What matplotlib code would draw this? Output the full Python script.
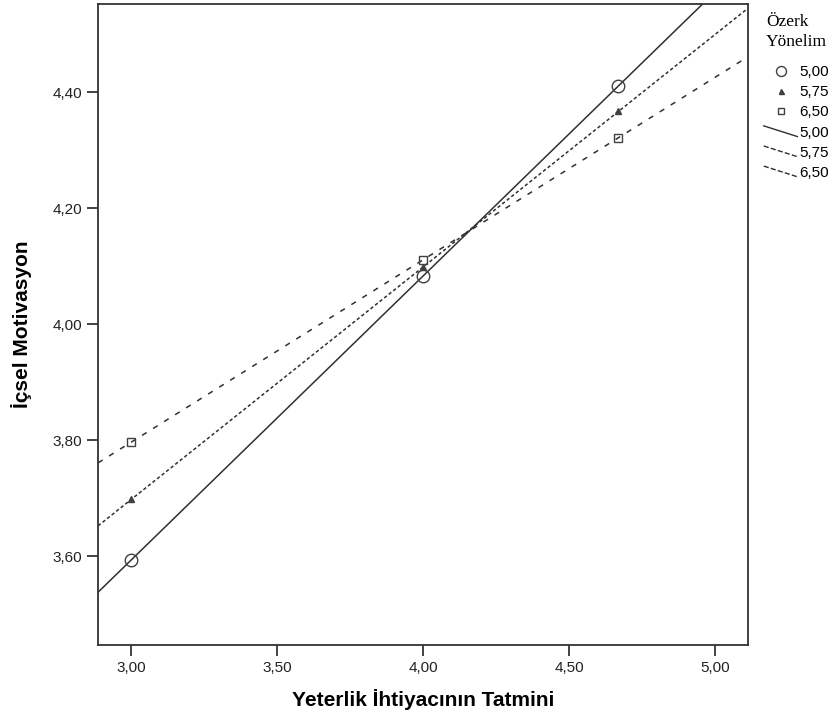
import numpy as np
import matplotlib
matplotlib.use("Agg")
import matplotlib.pyplot as plt
from matplotlib.lines import Line2D
from matplotlib.legend_handler import HandlerBase

# data
x_points = [3.00, 4.00, 4.667]
groups = ["5,00", "5,75", "6,50"]
y_500 = [3.593, 4.084, 4.410]
y_575 = [3.698, 4.098, 4.367]
y_650 = [3.797, 4.110, 4.322]

x_ticks = [3.0, 3.5, 4.0, 4.5, 5.0]
y_ticks = [3.6, 3.8, 4.0, 4.2, 4.4]
x_lim = (2.887, 5.113)
y_lim = (3.447, 4.553)

series = [y_500, y_575, y_650]
markers = ["o", "^", "s"]
marker_sizes = [9, 4.5, 6]
marker_face = ["none", "#404040", "none"]
line_styles = ["-", (0, (2.2, 1.6)), (0, (3.5, 5))]


class SlantLine(HandlerBase):
    # spss-style legend key: a short slanted line
    def create_artists(self, legend, orig, xdescent, ydescent, width, height, fontsize, trans):
        ln = Line2D([-xdescent, width - xdescent], [height, 0],
                    color=orig.get_color(), lw=orig.get_linewidth(),
                    linestyle=orig.get_linestyle())
        ln.set_transform(trans)
        return [ln]


plt.rcParams["font.family"] = ["Liberation Sans", "DejaVu Sans"]

fig = plt.figure(figsize=(8.38, 7.15), dpi=100)
ax = fig.add_axes([0.117, 0.098, 0.776, 0.897])

xx = np.array(x_lim)
for ys, m, ms, fc, ls in zip(series, markers, marker_sizes, marker_face, line_styles):
    slope, icpt = np.polyfit(x_points, ys, 1)
    ax.plot(xx, slope * xx + icpt, color="#303030", lw=1.1, linestyle=ls)
    ax.plot(x_points, ys, linestyle="none", marker=m, markersize=ms,
            markerfacecolor=fc, markeredgecolor="#404040", markeredgewidth=1.0)

ax.set_xlim(*x_lim)
ax.set_ylim(*y_lim)
ax.set_xticks(x_ticks)
ax.set_yticks(y_ticks)
ax.set_xticklabels([f"{v:.2f}".replace(".", ",") for v in x_ticks])
ax.set_yticklabels([f"{v:.2f}".replace(".", ",") for v in y_ticks])
ax.tick_params(direction="out", length=8, width=1.2, labelsize=11, colors="#222222")
for sp in ax.spines.values():
    sp.set_linewidth(1.3)
    sp.set_color("#333333")

ax.set_xlabel("Yeterlik İhtiyacının Tatmini", fontsize=15, fontweight="bold", labelpad=10)
ax.set_ylabel("İçsel Motivasyon", fontsize=15, fontweight="bold", labelpad=15)

# legend outside on the right
handles = []
for m, ms, fc in zip(markers, marker_sizes, marker_face):
    handles.append(Line2D([], [], linestyle="none", marker=m, markersize=ms * 0.8,
                          markerfacecolor=fc, markeredgecolor="#404040"))
line_handles = []
for ls in line_styles:
    h = Line2D([], [], color="#303030", lw=1.0, linestyle=ls)
    handles.append(h)
    line_handles.append(h)
labels = groups + groups
leg = fig.legend(handles, labels, loc="upper left", bbox_to_anchor=(0.895, 1.0),
                 frameon=False, fontsize=11, handlelength=2.2, handletextpad=0.15,
                 labelspacing=0.4, title="Özerk\nYönelim",
                 title_fontproperties={"family": "Liberation Serif", "size": 12.5},
                 handler_map={h: SlantLine() for h in line_handles})
leg._legend_box.align = "center"
leg._legend_box.sep = 11
leg.get_title().set_linespacing(1.35)

fig.savefig("out.png", dpi=100)
